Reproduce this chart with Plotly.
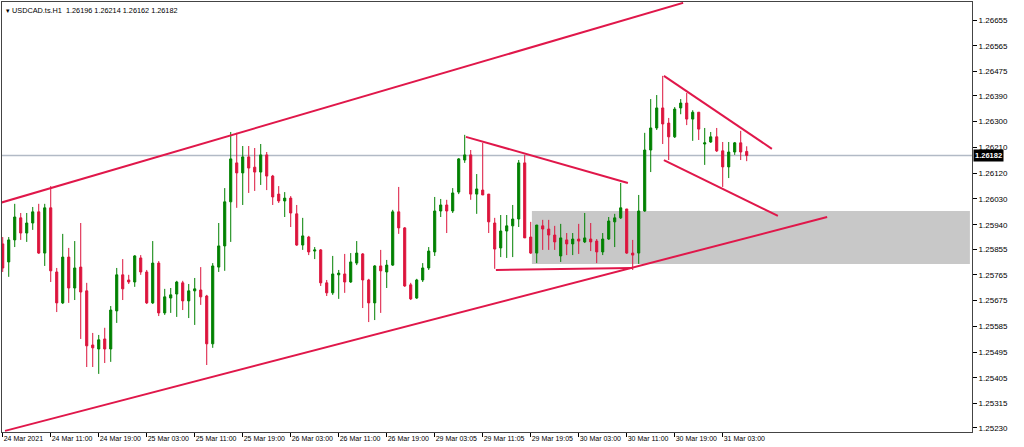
import plotly.graph_objects as go

# ---------------- data ----------------
opens = [1.25873, 1.25810, 1.25887, 1.25964, 1.25911, 1.25946, 1.25985, 1.25841, 1.25999, 1.25775,
         1.25667, 1.25827, 1.25719, 1.25792, 1.25709, 1.25520, 1.25506, 1.25541, 1.25506, 1.25639,
         1.25765, 1.25747, 1.25740, 1.25824, 1.25775, 1.25667, 1.25806, 1.25632, 1.25684, 1.25698,
         1.25737, 1.25674, 1.25709, 1.25712, 1.25691, 1.25524, 1.25792, 1.25866, 1.26020, 1.26156,
         1.26121, 1.26177, 1.26141, 1.26124, 1.26184, 1.26110, 1.26047, 1.26023, 1.26033, 1.25978,
         1.25869, 1.25897, 1.25848, 1.25852, 1.25737, 1.25702, 1.25765, 1.25768, 1.25740, 1.25806,
         1.25838, 1.25747, 1.25667, 1.25796, 1.25775, 1.25799, 1.25985, 1.25929, 1.25730, 1.25684,
         1.25747, 1.25789, 1.25845, 1.25988, 1.26009, 1.25988, 1.26054, 1.26166, 1.26184, 1.26047,
         1.26061, 1.26047, 1.25946, 1.25859, 1.25918, 1.25936, 1.25960, 1.26156, 1.25897, 1.25841,
         1.25936, 1.25925, 1.25904, 1.25831, 1.25887, 1.25873, 1.25890, 1.25880, 1.25890, 1.25883,
         1.25845, 1.25890, 1.25950, 1.25964, 1.25995, 1.25841, 1.25841, 1.25988, 1.26201, 1.26278,
         1.26348, 1.26295, 1.26247, 1.26348, 1.26365, 1.26309, 1.26333, 1.26222, 1.26229, 1.26247,
         1.26198, 1.26142, 1.26194, 1.26226, 1.26196]
highs = [1.25897, 1.25897, 1.26013, 1.25981, 1.25981, 1.26002, 1.26013, 1.26013, 1.26075, 1.25789,
         1.25908, 1.25859, 1.25883, 1.25946, 1.25737, 1.25562, 1.25555, 1.25580, 1.25656, 1.25789,
         1.25820, 1.25765, 1.25834, 1.25834, 1.25782, 1.25883, 1.25813, 1.25716, 1.25719, 1.25744,
         1.25744, 1.25733, 1.25754, 1.25792, 1.25695, 1.25806, 1.25946, 1.26068, 1.26264, 1.26261,
         1.26215, 1.26215, 1.26208, 1.26222, 1.26194, 1.26114, 1.26075, 1.26054, 1.26040, 1.26009,
         1.25964, 1.25901, 1.25862, 1.25855, 1.25747, 1.25831, 1.25782, 1.25838, 1.25841, 1.25883,
         1.25841, 1.25751, 1.25799, 1.25852, 1.25817, 1.25992, 1.26072, 1.25932, 1.25737, 1.25751,
         1.25806, 1.25862, 1.26037, 1.26030, 1.26027, 1.26068, 1.26173, 1.26254, 1.26201, 1.26117,
         1.26226, 1.26047, 1.25964, 1.25974, 1.25974, 1.26009, 1.26166, 1.26184, 1.25950, 1.25939,
         1.25957, 1.25957, 1.25936, 1.25943, 1.25911, 1.25911, 1.25943, 1.25981, 1.25946, 1.25890,
         1.25911, 1.25967, 1.25978, 1.26086, 1.25995, 1.25887, 1.26044, 1.26261, 1.26379, 1.26393,
         1.26460, 1.26313, 1.26351, 1.26379, 1.26400, 1.26340, 1.26333, 1.26278, 1.26264, 1.26278,
         1.26229, 1.26229, 1.26229, 1.26268, 1.26214]
lows = [1.25775, 1.25758, 1.25862, 1.25887, 1.25880, 1.25922, 1.25838, 1.25796, 1.25740, 1.25635,
        1.25663, 1.25667, 1.25677, 1.25541, 1.25443, 1.25443, 1.25419, 1.25457, 1.25461, 1.25597,
        1.25677, 1.25733, 1.25723, 1.25765, 1.25663, 1.25663, 1.25621, 1.25625, 1.25632, 1.25618,
        1.25642, 1.25614, 1.25590, 1.25660, 1.25450, 1.25510, 1.25775, 1.25779, 1.25880, 1.25999,
        1.26009, 1.26051, 1.26058, 1.26079, 1.26061, 1.26009, 1.26016, 1.25967, 1.25932, 1.25866,
        1.25852, 1.25834, 1.25820, 1.25726, 1.25691, 1.25695, 1.25681, 1.25702, 1.25737, 1.25799,
        1.25649, 1.25600, 1.25607, 1.25632, 1.25719, 1.25796, 1.25908, 1.25723, 1.25677, 1.25681,
        1.25740, 1.25782, 1.25831, 1.25967, 1.25911, 1.25981, 1.26047, 1.26156, 1.26027, 1.25978,
        1.26044, 1.25911, 1.25786, 1.25827, 1.25824, 1.25827, 1.25932, 1.25894, 1.25838, 1.25806,
        1.25852, 1.25852, 1.25852, 1.25810, 1.25834, 1.25834, 1.25838, 1.25876, 1.25848, 1.25806,
        1.25834, 1.25887, 1.25862, 1.25960, 1.25838, 1.25782, 1.25803, 1.25985, 1.26124, 1.26271,
        1.26222, 1.26166, 1.26243, 1.26326, 1.26288, 1.26233, 1.26236, 1.26149, 1.26226, 1.26194,
        1.26072, 1.26103, 1.26184, 1.26166, 1.26162]
closes = [1.25789, 1.25887, 1.25967, 1.25911, 1.25946, 1.25985, 1.25841, 1.25999, 1.25779, 1.25667,
          1.25827, 1.25719, 1.25789, 1.25705, 1.25517, 1.25510, 1.25538, 1.25506, 1.25642, 1.25765,
          1.25716, 1.25740, 1.25831, 1.25775, 1.25667, 1.25806, 1.25632, 1.25688, 1.25695, 1.25740,
          1.25674, 1.25709, 1.25716, 1.25688, 1.25524, 1.25796, 1.25866, 1.26020, 1.26170, 1.26121,
          1.26177, 1.26138, 1.26124, 1.26184, 1.26110, 1.26037, 1.26023, 1.26033, 1.25981, 1.25869,
          1.25901, 1.25845, 1.25852, 1.25737, 1.25702, 1.25768, 1.25771, 1.25740, 1.25810, 1.25841,
          1.25747, 1.25667, 1.25796, 1.25779, 1.25799, 1.25985, 1.25929, 1.25726, 1.25681, 1.25747,
          1.25789, 1.25848, 1.25988, 1.26009, 1.25988, 1.26051, 1.26170, 1.26184, 1.26047, 1.26065,
          1.26044, 1.25950, 1.25855, 1.25918, 1.25936, 1.25960, 1.26156, 1.25894, 1.25841, 1.25939,
          1.25925, 1.25904, 1.25880, 1.25894, 1.25873, 1.25890, 1.25883, 1.25894, 1.25880, 1.25845,
          1.25890, 1.25953, 1.25964, 1.25999, 1.25841, 1.25834, 1.25988, 1.26201, 1.26278, 1.26348,
          1.26292, 1.26247, 1.26344, 1.26365, 1.26309, 1.26333, 1.26274, 1.26226, 1.26247, 1.26198,
          1.26142, 1.26194, 1.26226, 1.26194, 1.26182]

bar_index = list(range(len(opens)))

time_tick_bars = [0, 8, 16, 24, 32, 40, 48, 56, 64, 72, 80, 88, 96, 104, 112, 120]
time_tick_labels = ["24 Mar 2021", "24 Mar 11:00", "24 Mar 19:00", "25 Mar 03:00", "25 Mar 11:00",
                    "25 Mar 19:00", "26 Mar 03:00", "26 Mar 11:00", "26 Mar 19:00", "29 Mar 03:05",
                    "29 Mar 11:05", "29 Mar 19:05", "30 Mar 03:00", "30 Mar 11:00", "30 Mar 19:00",
                    "31 Mar 03:00"]
price_tick_labels = ["1.26655", "1.26565", "1.26475", "1.26390", "1.26300", "1.26210", "1.26120",
                     "1.26030", "1.25940", "1.25855", "1.25765", "1.25675", "1.25585", "1.25495",
                     "1.25405", "1.25315", "1.25230"]

current_price = 1.26182
header_text = "USDCAD.ts.H1  1.26196 1.26214 1.26162 1.26182"

# drawn objects: (bar index, price) end points
channel_upper = [(-0.45, 1.26016), (113.4, 1.26715)]
channel_lower = [(0.38, 1.25220), (137.4, 1.25967)]
triangle_upper = [(77.2, 1.26247), (104.2, 1.26086)]
triangle_lower = [(82.2, 1.25782), (104.9, 1.25789)]
flag_upper = [(110.2, 1.26460), (128.2, 1.26205)]
flag_lower = [(110.2, 1.26166), (129.2, 1.25971)]
zone_box = [(88.2, 1.25988), (161.2, 1.25803)]

x_range = [-0.12, 161.55]
y_range = [1.25216, 1.26718]

BULL = "#008000"
BEAR = "#DC143C"
LINE = "#E0174A"
FONT = "Liberation Sans"

fig = go.Figure()
fig.add_trace(go.Candlestick(
    x=bar_index, open=opens, high=highs, low=lows, close=closes,
    increasing=dict(line=dict(color=BULL, width=1), fillcolor=BULL),
    decreasing=dict(line=dict(color=BEAR, width=1), fillcolor=BEAR),
    whiskerwidth=0, showlegend=False, hoverinfo="skip",
))

shapes = []
(bx0, by0), (bx1, by1) = zone_box
shapes.append(dict(type="rect", xref="x", yref="y", x0=bx0, x1=bx1, y0=by0, y1=by1,
                   fillcolor="#C8C8C8", line=dict(width=0), layer="below"))
shapes.append(dict(type="line", xref="paper", yref="y", x0=0, x1=1, y0=current_price, y1=current_price,
                   line=dict(color="#B2BAC6", width=1.5), layer="below"))
for seg in [channel_upper, channel_lower, triangle_upper, triangle_lower, flag_upper, flag_lower]:
    (x0, y0), (x1, y1) = seg
    shapes.append(dict(type="line", xref="x", yref="y", x0=x0, y0=y0, x1=x1, y1=y1,
                       line=dict(color=LINE, width=2)))

fig.update_layout(
    width=1024, height=447,
    margin=dict(l=2, r=52, t=2, b=15, autoexpand=False),
    paper_bgcolor="white", plot_bgcolor="white",
    font=dict(family=FONT, size=7, color="black"),
    boxgap=0.5,
    hovermode=False,
    shapes=shapes,
    xaxis=dict(range=x_range, rangeslider=dict(visible=False), showgrid=False, zeroline=False,
               tickmode="array", tickvals=time_tick_bars, ticktext=time_tick_labels,
               ticks="outside", ticklen=4, tickcolor="black", tickwidth=1,
               ticklabelposition="outside right", tickangle=0, automargin=False,
               showline=True, linecolor="#444444", linewidth=1, mirror=True,
               tickfont=dict(family=FONT, size=7, color="black")),
    yaxis=dict(range=y_range, side="right", showgrid=False, zeroline=False, automargin=False,
               tickmode="array", tickvals=[float(v) for v in price_tick_labels],
               ticktext=price_tick_labels,
               ticks="outside", ticklen=4, tickcolor="black", tickwidth=1,
               showline=True, linecolor="#444444", linewidth=1, mirror=True,
               tickfont=dict(family=FONT, size=8, color="black")),
    annotations=[
        dict(xref="paper", yref="paper", x=0, y=1, xanchor="left", yanchor="top",
             xshift=2, yshift=-2, showarrow=False, align="left",
             text="\u25BE " + header_text, font=dict(family=FONT, size=7.3, color="black")),
        dict(xref="paper", yref="y", x=1, y=current_price, xanchor="left", yanchor="middle",
             xshift=1, showarrow=False, text="<b>%.5f</b>" % current_price, bgcolor="black",
             borderpad=1, font=dict(family=FONT, size=7.5, color="white")),
    ],
)

fig.write_html("out.html",
               config={"displayModeBar": False, "staticPlot": True},
               post_script="document.body.style.margin='0';document.body.style.overflow='hidden';")
